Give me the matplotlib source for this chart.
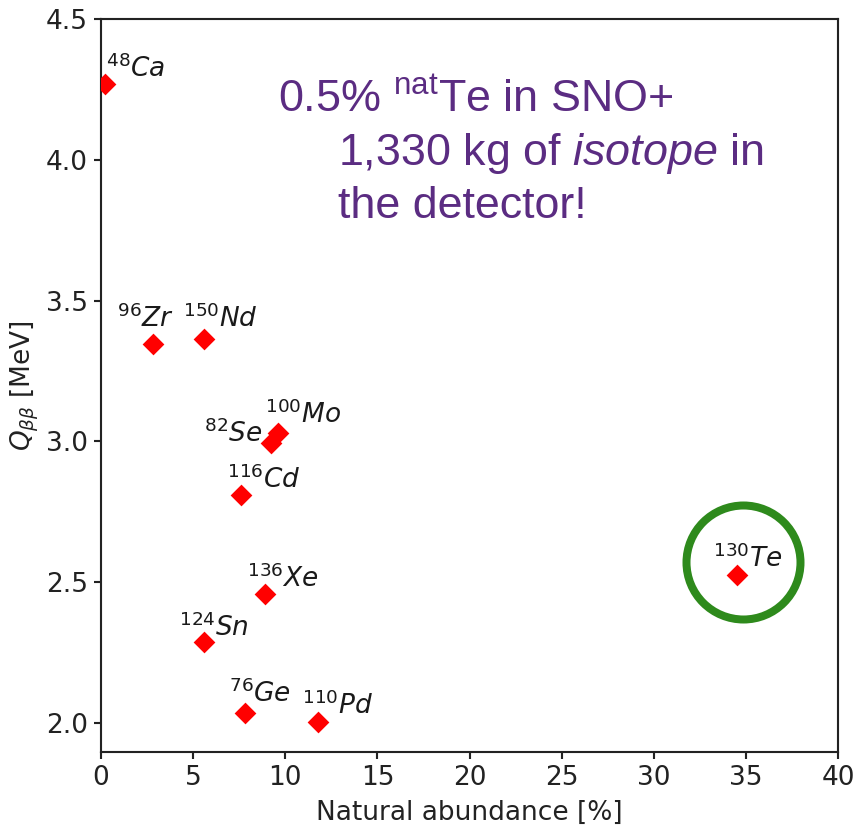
import matplotlib
matplotlib.use("Agg")
import matplotlib.pyplot as plt
import matplotlib.transforms as mtransforms

# ---- data ----
isotopes = ["48Ca", "96Zr", "150Nd", "100Mo", "82Se", "116Cd", "136Xe", "124Sn", "76Ge", "110Pd", "130Te"]
mass_numbers = ["48", "96", "150", "100", "82", "116", "136", "124", "76", "110", "130"]
elements = ["Ca", "Zr", "Nd", "Mo", "Se", "Cd", "Xe", "Sn", "Ge", "Pd", "Te"]
abundance = [0.19, 2.8, 5.6, 9.6, 9.2, 7.6, 8.9, 5.6, 7.8, 11.8, 34.5]
q_value = [4.27, 3.345, 3.365, 3.03, 2.995, 2.81, 2.458, 2.287, 2.035, 2.004, 2.527]
x_ticks = [0, 5, 10, 15, 20, 25, 30, 35, 40]
y_ticks = [2.0, 2.5, 3.0, 3.5, 4.0, 4.5]

# label offsets (pixels) relative to each marker
label_dx = [1, -36, -21, -13, -67, -14, -18, -25, -16, -16, -24]
label_dy = [7, 17, 12, 10, 1, 7, 7, 6, 11, 8, 8]

plt.rcParams["mathtext.fontset"] = "dejavusans"
plt.rcParams["mathtext.rm"] = "Liberation Sans"
plt.rcParams["mathtext.it"] = "Liberation Sans:italic"

DPI = 190
px = 72 / DPI  # points per pixel
fig = plt.figure(figsize=(860 / DPI, 827 / DPI), dpi=DPI)
ax = fig.add_axes([101 / 860, 1 - 752 / 827, 737 / 860, 733 / 827])

ax.plot(abundance, q_value, linestyle="none", marker="D", color="red",
        markersize=5.0, zorder=3)

for i in range(len(elements)):
    ax.annotate(r"$^{%s}%s$" % (mass_numbers[i], elements[i]),
                xy=(abundance[i], q_value[i]),
                xytext=(label_dx[i], label_dy[i]), textcoords="offset pixels",
                ha="left", va="baseline", fontsize=10, color="#1a1a1a")

# highlight ring around 130Te
te = elements.index("Te")
ring_offset = mtransforms.ScaledTranslation(6 / DPI, 13 / DPI, fig.dpi_scale_trans)
ax.plot([abundance[te]], [q_value[te]], linestyle="none", marker="o",
        markersize=114 * px, markerfacecolor="none",
        markeredgecolor="#2e8a1c", markeredgewidth=8 * px,
        transform=ax.transData + ring_offset, zorder=2)

ax.set_xlim(0, 40)
ax.set_ylim(1.897, 4.5)
ax.set_xticks(x_ticks)
ax.set_yticks(y_ticks)
ax.tick_params(length=7 * px, pad=6 * px, colors="#222222", labelcolor="#222222")
for s in ax.spines.values():
    s.set_color("#222222")
ax.set_xlabel("Natural abundance [%]", labelpad=9 * px, color="#222222")
ax.set_ylabel(r"$Q_{\beta\beta}$ [MeV]", labelpad=5 * px, color="#222222")

purple = "#5b2c82"
tkw = dict(transform=ax.transAxes, ha="left", va="baseline", fontsize=17,
           color=purple, family="Liberation Sans", math_fontfamily="custom")
ax.text((278 - 101) / 737, (752 - 112) / 733, r"0.5% $^{\mathrm{nat}}$Te in SNO+", **tkw)
ax.text((338 - 101) / 737, (752 - 165) / 733, r"1,330 kg of $\mathit{isotope}$ in", **tkw)
ax.text((338 - 101) / 737, (752 - 218) / 733, "the detector!", **tkw)

fig.savefig("out.png", dpi=DPI)
